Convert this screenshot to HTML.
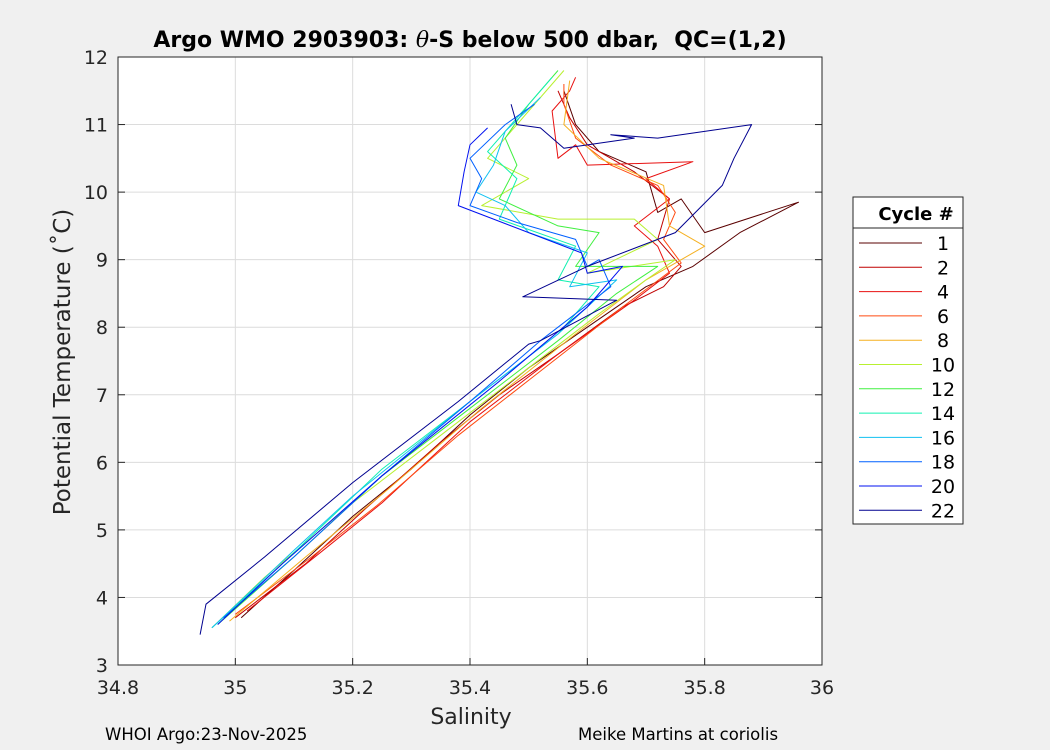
<!DOCTYPE html>
<html><head><meta charset="utf-8"><style>
body{margin:0;background:#f0f0f0;}
svg{display:block;font-family:"DejaVu Sans","Liberation Sans",sans-serif;}
</style></head><body>
<svg id="chart" width="1050" height="750">
<rect width="1050" height="750" fill="#f0f0f0"/>
<rect x="118" y="57" width="704" height="608" fill="#fff"/>
<g id="grid"></g>
<g id="series"></g>
<rect x="118" y="57" width="704" height="608" fill="none" stroke="#262626" stroke-width="1"/>
<g id="ticks"></g>
<text x="470" y="47" font-size="22" font-weight="bold" text-anchor="middle" fill="#000" style="white-space:pre">Argo WMO 2903903: <tspan font-style="italic" font-weight="normal" font-family="DejaVu Serif, serif">θ</tspan>-S below 500 dbar,  QC=(1,2)</text>
<text x="471" y="724" font-size="22" text-anchor="middle" fill="#262626">Salinity</text>
<text transform="translate(70,362) rotate(-90)" font-size="23" text-anchor="middle" fill="#262626">Potential Temperature (˚C)</text>
<text x="105" y="740" font-size="16.5" fill="#000">WHOI Argo:23-Nov-2025</text>
<text x="578" y="740" font-size="16.5" fill="#000">Meike Martins at coriolis</text>
<g id="legend">
<rect x="853" y="197" width="110" height="327" fill="#fff" stroke="#262626"/>
<line x1="853" y1="228" x2="963" y2="228" stroke="#262626"/>
<text x="916" y="220" font-size="18" font-weight="bold" text-anchor="middle">Cycle #</text>
</g>
</svg>
<script>
const xTicks=[34.8,35,35.2,35.4,35.6,35.8,36];
const yTicks=[3,4,5,6,7,8,9,10,11,12];
const cycles=["1","2","4","6","8","10","12","14","16","18","20","22"];
const colors=["#5a0000","#c00000","#e81010","#ff4a10","#f5b020","#b8f030","#40f040","#10f0b0","#10c0f0","#0060ff","#0010f0","#00008f"];
const c1=[[35.01,3.7],[35.1,4.4],[35.2,5.2],[35.3,5.9],[35.4,6.7],[35.5,7.4],[35.6,8.0],[35.7,8.6],[35.78,8.9],[35.86,9.4],[35.96,9.85],[35.8,9.4],[35.76,9.9],[35.72,9.7],[35.7,10.3],[35.62,10.6],[35.58,11.0],[35.56,11.5]];
const c2=[[35.0,3.7],[35.12,4.5],[35.22,5.3],[35.35,6.3],[35.45,7.0],[35.55,7.6],[35.66,8.3],[35.73,8.6],[35.76,8.9],[35.72,9.3],[35.74,9.9],[35.68,10.3],[35.6,10.7],[35.57,11.1],[35.55,11.5]];
const c4=[[35.02,3.8],[35.15,4.7],[35.25,5.4],[35.4,6.6],[35.55,7.6],[35.68,8.4],[35.74,8.8],[35.72,9.2],[35.68,9.5],[35.74,9.9],[35.7,10.2],[35.78,10.45],[35.6,10.4],[35.58,10.7],[35.55,10.5],[35.54,11.2],[35.57,11.5],[35.58,11.7]];
const c6=[[35.0,3.75],[35.13,4.6],[35.24,5.35],[35.38,6.4],[35.52,7.35],[35.66,8.3],[35.76,8.95],[35.73,9.3],[35.75,9.7],[35.72,10.1],[35.64,10.4],[35.58,10.8],[35.56,11.3],[35.56,11.6]];
const c8=[[34.99,3.65],[35.12,4.6],[35.26,5.6],[35.42,6.8],[35.58,7.9],[35.7,8.7],[35.8,9.2],[35.74,9.5],[35.73,10.1],[35.62,10.5],[35.56,11.0],[35.57,11.65]];
const c10=[[34.96,3.55],[35.05,4.3],[35.2,5.4],[35.35,6.4],[35.5,7.4],[35.62,8.2],[35.7,8.7],[35.75,9.0],[35.6,8.8],[35.72,9.3],[35.68,9.6],[35.55,9.6],[35.42,9.8],[35.5,10.2],[35.43,10.5],[35.5,11.2],[35.56,11.8]];
const c12=[[34.97,3.6],[35.1,4.6],[35.25,5.8],[35.4,6.8],[35.55,7.8],[35.65,8.5],[35.72,8.9],[35.58,8.9],[35.62,9.4],[35.55,9.5],[35.45,9.9],[35.48,10.4],[35.46,10.8],[35.5,11.3],[35.55,11.8]];
const c14=[[34.96,3.55],[35.08,4.5],[35.25,5.9],[35.4,6.9],[35.55,7.9],[35.62,8.6],[35.55,8.7],[35.58,9.2],[35.45,9.6],[35.48,10.2],[35.43,10.6],[35.5,11.3],[35.54,11.7]];
const c16=[[34.96,3.55],[35.1,4.7],[35.2,5.5],[35.4,6.9],[35.55,7.9],[35.65,8.7],[35.57,8.6],[35.6,9.1],[35.5,9.4],[35.46,9.8],[35.41,10.0],[35.44,10.4],[35.46,10.9],[35.52,11.4]];
const c18=[[34.98,3.7],[35.1,4.6],[35.25,5.8],[35.4,6.9],[35.52,7.8],[35.64,8.6],[35.62,9.0],[35.6,8.9],[35.58,9.3],[35.48,9.55],[35.4,9.8],[35.42,10.2],[35.4,10.5],[35.46,11.0],[35.51,11.3]];
const c20=[[34.97,3.6],[35.08,4.5],[35.25,5.8],[35.45,7.2],[35.6,8.3],[35.66,8.9],[35.6,8.8],[35.59,9.1],[35.5,9.4],[35.41,9.7],[35.38,9.8],[35.39,10.3],[35.4,10.7],[35.43,10.95]];
const c22=[[34.94,3.45],[34.95,3.9],[35.05,4.6],[35.2,5.7],[35.38,6.9],[35.5,7.75],[35.52,7.8],[35.65,8.4],[35.49,8.45],[35.6,8.9],[35.75,9.4],[35.83,10.1],[35.85,10.5],[35.88,11.0],[35.72,10.8],[35.64,10.85],[35.68,10.8],[35.56,10.65],[35.52,10.95],[35.48,11.0],[35.47,11.3]];
const seriesData=[c1,c2,c4,c6,c8,c10,c12,c14,c16,c18,c20,c22];
const NS="http://www.w3.org/2000/svg";
const X0=118,X1=822,Y0=665,Y1=57;
function sx(v){return X0+(v-34.8)/(36-34.8)*(X1-X0);}
function sy(v){return Y0-(v-3)/(12-3)*(Y0-Y1);}
function mk(tag,attrs,parent){const e=document.createElementNS(NS,tag);for(const k in attrs)e.setAttribute(k,attrs[k]);parent.appendChild(e);return e;}
const grid=document.getElementById('grid'),ticks=document.getElementById('ticks'),ser=document.getElementById('series'),leg=document.getElementById('legend');
xTicks.forEach(v=>{const x=sx(v);
 const g=mk('line',{x1:x,x2:x,y1:Y1,y2:Y0,stroke:'#dcdcdc'},grid);
 
 
 const t1=mk('line',{x1:x,x2:x,y1:Y0,y2:Y0-7,stroke:'#262626'},ticks);
 
 
 const t=mk('text',{x:x,y:Y0+29,'font-size':19,'text-anchor':'middle',fill:'#262626'},ticks);t.textContent=String(v);
 
 
});
yTicks.forEach(v=>{const y=sy(v);
 const g=mk('line',{x1:X0,x2:X1,y1:y,y2:y,stroke:'#dcdcdc'},grid);
 
 
 const t1=mk('line',{x1:X0,x2:X0+7,y1:y,y2:y,stroke:'#262626'},ticks);
 
 
 const t2=mk('line',{x1:X1,x2:X1-7,y1:y,y2:y,stroke:'#262626'},ticks);
 
 
 const t=mk('text',{x:X0-10,y:y+7,'font-size':19,'text-anchor':'end',fill:'#262626'},ticks);t.textContent=String(v);
 
 
});
seriesData.forEach((d,i)=>{
 const p=mk('polyline',{points:d.map(q=>sx(q[0]).toFixed(1)+','+sy(q[1]).toFixed(1)).join(' '),fill:'none',stroke:colors[i],'stroke-width':1,'stroke-linejoin':'round'},ser);
 
 
});
cycles.forEach((c,i)=>{const y=243+i*24.3;
 const l=mk('line',{x1:859,x2:922,y1:y,y2:y,stroke:colors[i]},leg);
 
 
 const t=mk('text',{x:943,y:y+7,'font-size':19,'text-anchor':'middle',fill:'#000'},leg);t.textContent=c;
 
 
});
</script>
</body></html>
